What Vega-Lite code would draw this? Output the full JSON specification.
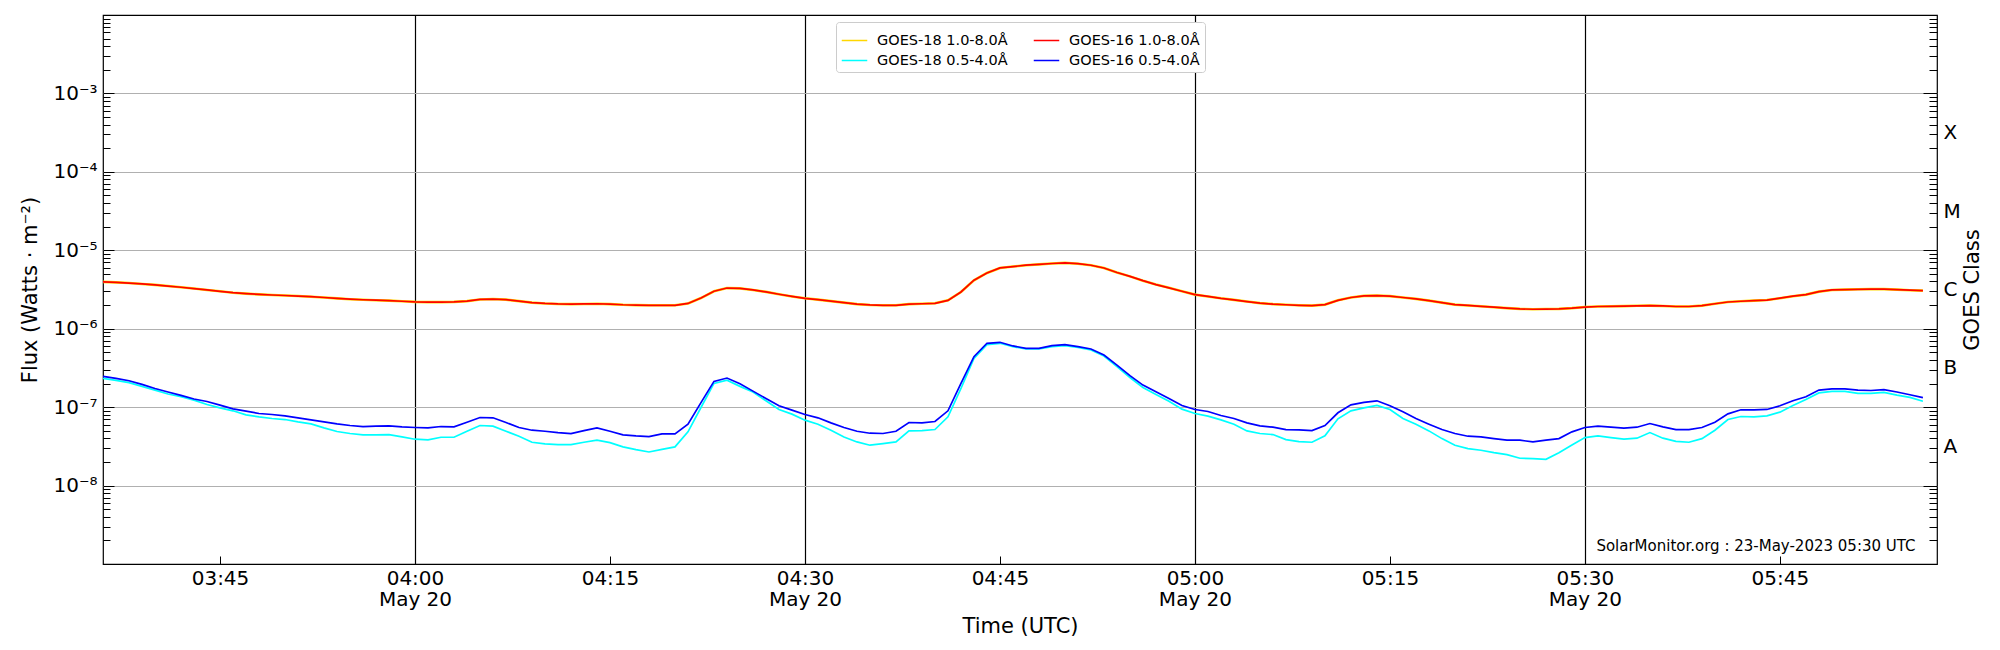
{
  "$schema": "https://vega.github.io/schema/vega-lite/v6.json",
  "autosize": {"type": "none"},
  "padding": {"left": 103, "top": 15, "right": 63, "bottom": 86},
  "width": 1834,
  "height": 549,
  "config": {
    "font": "DejaVu Sans",
    "view": {"stroke": "black", "strokeWidth": 1.2},
    "axis": {"labelColor": "black", "titleColor": "black", "tickColor": "black", "titleFontWeight": "normal"}
  },
  "datasets": {
    "goes": [
      {"t": "2023-05-20T03:36:00Z", "g18l": 3.95e-6, "g16l": 3.95e-6, "g18s": 2.33e-7, "g16s": 2.47e-7},
      {"t": "2023-05-20T03:37:00Z", "g18l": 3.9e-6, "g16l": 3.9e-6, "g18s": 2.19e-7, "g16s": 2.33e-7},
      {"t": "2023-05-20T03:38:00Z", "g18l": 3.82e-6, "g16l": 3.82e-6, "g18s": 2.05e-7, "g16s": 2.17e-7},
      {"t": "2023-05-20T03:39:00Z", "g18l": 3.72e-6, "g16l": 3.72e-6, "g18s": 1.84e-7, "g16s": 1.95e-7},
      {"t": "2023-05-20T03:40:00Z", "g18l": 3.62e-6, "g16l": 3.62e-6, "g18s": 1.65e-7, "g16s": 1.73e-7},
      {"t": "2023-05-20T03:41:00Z", "g18l": 3.5e-6, "g16l": 3.5e-6, "g18s": 1.47e-7, "g16s": 1.56e-7},
      {"t": "2023-05-20T03:42:00Z", "g18l": 3.38e-6, "g16l": 3.38e-6, "g18s": 1.36e-7, "g16s": 1.41e-7},
      {"t": "2023-05-20T03:43:00Z", "g18l": 3.25e-6, "g16l": 3.25e-6, "g18s": 1.23e-7, "g16s": 1.27e-7},
      {"t": "2023-05-20T03:44:00Z", "g18l": 3.12e-6, "g16l": 3.12e-6, "g18s": 1.08e-7, "g16s": 1.18e-7},
      {"t": "2023-05-20T03:45:00Z", "g18l": 3.0e-6, "g16l": 3.0e-6, "g18s": 0.98e-7, "g16s": 1.06e-7},
      {"t": "2023-05-20T03:46:00Z", "g18l": 2.88e-6, "g16l": 2.88e-6, "g18s": 0.898e-7, "g16s": 0.952e-7},
      {"t": "2023-05-20T03:47:00Z", "g18l": 2.8e-6, "g16l": 2.8e-6, "g18s": 0.798e-7, "g16s": 0.889e-7},
      {"t": "2023-05-20T03:48:00Z", "g18l": 2.74e-6, "g16l": 2.74e-6, "g18s": 0.752e-7, "g16s": 0.83e-7},
      {"t": "2023-05-20T03:49:00Z", "g18l": 2.69e-6, "g16l": 2.69e-6, "g18s": 0.716e-7, "g16s": 0.806e-7},
      {"t": "2023-05-20T03:50:00Z", "g18l": 2.65e-6, "g16l": 2.65e-6, "g18s": 0.695e-7, "g16s": 0.775e-7},
      {"t": "2023-05-20T03:51:00Z", "g18l": 2.61e-6, "g16l": 2.61e-6, "g18s": 0.649e-7, "g16s": 0.731e-7},
      {"t": "2023-05-20T03:52:00Z", "g18l": 2.56e-6, "g16l": 2.56e-6, "g18s": 0.612e-7, "g16s": 0.689e-7},
      {"t": "2023-05-20T03:53:00Z", "g18l": 2.5e-6, "g16l": 2.5e-6, "g18s": 0.544e-7, "g16s": 0.649e-7},
      {"t": "2023-05-20T03:54:00Z", "g18l": 2.44e-6, "g16l": 2.44e-6, "g18s": 0.489e-7, "g16s": 0.612e-7},
      {"t": "2023-05-20T03:55:00Z", "g18l": 2.38e-6, "g16l": 2.38e-6, "g18s": 0.461e-7, "g16s": 0.583e-7},
      {"t": "2023-05-20T03:56:00Z", "g18l": 2.34e-6, "g16l": 2.34e-6, "g18s": 0.443e-7, "g16s": 0.566e-7},
      {"t": "2023-05-20T03:57:00Z", "g18l": 2.31e-6, "g16l": 2.31e-6, "g18s": 0.443e-7, "g16s": 0.572e-7},
      {"t": "2023-05-20T03:58:00Z", "g18l": 2.28e-6, "g16l": 2.28e-6, "g18s": 0.447e-7, "g16s": 0.577e-7},
      {"t": "2023-05-20T03:59:00Z", "g18l": 2.24e-6, "g16l": 2.24e-6, "g18s": 0.417e-7, "g16s": 0.56e-7},
      {"t": "2023-05-20T04:00:00Z", "g18l": 2.2e-6, "g16l": 2.2e-6, "g18s": 0.39e-7, "g16s": 0.55e-7},
      {"t": "2023-05-20T04:01:00Z", "g18l": 2.18e-6, "g16l": 2.18e-6, "g18s": 0.382e-7, "g16s": 0.544e-7},
      {"t": "2023-05-20T04:02:00Z", "g18l": 2.18e-6, "g16l": 2.18e-6, "g18s": 0.413e-7, "g16s": 0.566e-7},
      {"t": "2023-05-20T04:03:00Z", "g18l": 2.2e-6, "g16l": 2.2e-6, "g18s": 0.413e-7, "g16s": 0.56e-7},
      {"t": "2023-05-20T04:04:00Z", "g18l": 2.25e-6, "g16l": 2.25e-6, "g18s": 0.493e-7, "g16s": 0.643e-7},
      {"t": "2023-05-20T04:05:00Z", "g18l": 2.36e-6, "g16l": 2.36e-6, "g18s": 0.583e-7, "g16s": 0.738e-7},
      {"t": "2023-05-20T04:06:00Z", "g18l": 2.39e-6, "g16l": 2.39e-6, "g18s": 0.572e-7, "g16s": 0.731e-7},
      {"t": "2023-05-20T04:07:00Z", "g18l": 2.35e-6, "g16l": 2.35e-6, "g18s": 0.493e-7, "g16s": 0.637e-7},
      {"t": "2023-05-20T04:08:00Z", "g18l": 2.25e-6, "g16l": 2.25e-6, "g18s": 0.426e-7, "g16s": 0.55e-7},
      {"t": "2023-05-20T04:09:00Z", "g18l": 2.15e-6, "g16l": 2.15e-6, "g18s": 0.357e-7, "g16s": 0.508e-7},
      {"t": "2023-05-20T04:10:00Z", "g18l": 2.1e-6, "g16l": 2.1e-6, "g18s": 0.34e-7, "g16s": 0.493e-7},
      {"t": "2023-05-20T04:11:00Z", "g18l": 2.07e-6, "g16l": 2.07e-6, "g18s": 0.333e-7, "g16s": 0.474e-7},
      {"t": "2023-05-20T04:12:00Z", "g18l": 2.06e-6, "g16l": 2.06e-6, "g18s": 0.333e-7, "g16s": 0.461e-7},
      {"t": "2023-05-20T04:13:00Z", "g18l": 2.07e-6, "g16l": 2.07e-6, "g18s": 0.357e-7, "g16s": 0.503e-7},
      {"t": "2023-05-20T04:14:00Z", "g18l": 2.08e-6, "g16l": 2.08e-6, "g18s": 0.379e-7, "g16s": 0.544e-7},
      {"t": "2023-05-20T04:15:00Z", "g18l": 2.06e-6, "g16l": 2.06e-6, "g18s": 0.353e-7, "g16s": 0.493e-7},
      {"t": "2023-05-20T04:16:00Z", "g18l": 2.02e-6, "g16l": 2.02e-6, "g18s": 0.311e-7, "g16s": 0.443e-7},
      {"t": "2023-05-20T04:17:00Z", "g18l": 2.0e-6, "g16l": 2.0e-6, "g18s": 0.287e-7, "g16s": 0.43e-7},
      {"t": "2023-05-20T04:18:00Z", "g18l": 1.99e-6, "g16l": 1.99e-6, "g18s": 0.268e-7, "g16s": 0.422e-7},
      {"t": "2023-05-20T04:19:00Z", "g18l": 1.99e-6, "g16l": 1.99e-6, "g18s": 0.29e-7, "g16s": 0.456e-7},
      {"t": "2023-05-20T04:20:00Z", "g18l": 1.99e-6, "g16l": 1.99e-6, "g18s": 0.311e-7, "g16s": 0.456e-7},
      {"t": "2023-05-20T04:21:00Z", "g18l": 2.1e-6, "g16l": 2.1e-6, "g18s": 0.484e-7, "g16s": 0.606e-7},
      {"t": "2023-05-20T04:22:00Z", "g18l": 2.46e-6, "g16l": 2.46e-6, "g18s": 0.99e-7, "g16s": 1.14e-7},
      {"t": "2023-05-20T04:23:00Z", "g18l": 3.0e-6, "g16l": 3.0e-6, "g18s": 2.01e-7, "g16s": 2.13e-7},
      {"t": "2023-05-20T04:24:00Z", "g18l": 3.3e-6, "g16l": 3.3e-6, "g18s": 2.21e-7, "g16s": 2.35e-7},
      {"t": "2023-05-20T04:25:00Z", "g18l": 3.27e-6, "g16l": 3.27e-6, "g18s": 1.84e-7, "g16s": 1.99e-7},
      {"t": "2023-05-20T04:26:00Z", "g18l": 3.12e-6, "g16l": 3.12e-6, "g18s": 1.56e-7, "g16s": 1.6e-7},
      {"t": "2023-05-20T04:27:00Z", "g18l": 2.95e-6, "g16l": 2.95e-6, "g18s": 1.205e-7, "g16s": 1.29e-7},
      {"t": "2023-05-20T04:28:00Z", "g18l": 2.75e-6, "g16l": 2.75e-6, "g18s": 0.934e-7, "g16s": 1.04e-7},
      {"t": "2023-05-20T04:29:00Z", "g18l": 2.58e-6, "g16l": 2.58e-6, "g18s": 0.814e-7, "g16s": 0.915e-7},
      {"t": "2023-05-20T04:30:00Z", "g18l": 2.44e-6, "g16l": 2.44e-6, "g18s": 0.682e-7, "g16s": 0.806e-7},
      {"t": "2023-05-20T04:31:00Z", "g18l": 2.35e-6, "g16l": 2.35e-6, "g18s": 0.606e-7, "g16s": 0.731e-7},
      {"t": "2023-05-20T04:32:00Z", "g18l": 2.25e-6, "g16l": 2.25e-6, "g18s": 0.508e-7, "g16s": 0.63e-7},
      {"t": "2023-05-20T04:33:00Z", "g18l": 2.15e-6, "g16l": 2.15e-6, "g18s": 0.417e-7, "g16s": 0.55e-7},
      {"t": "2023-05-20T04:34:00Z", "g18l": 2.06e-6, "g16l": 2.06e-6, "g18s": 0.36e-7, "g16s": 0.493e-7},
      {"t": "2023-05-20T04:35:00Z", "g18l": 2.01e-6, "g16l": 2.01e-6, "g18s": 0.327e-7, "g16s": 0.465e-7},
      {"t": "2023-05-20T04:36:00Z", "g18l": 1.99e-6, "g16l": 1.99e-6, "g18s": 0.343e-7, "g16s": 0.461e-7},
      {"t": "2023-05-20T04:37:00Z", "g18l": 1.99e-6, "g16l": 1.99e-6, "g18s": 0.36e-7, "g16s": 0.493e-7},
      {"t": "2023-05-20T04:38:00Z", "g18l": 2.06e-6, "g16l": 2.06e-6, "g18s": 0.498e-7, "g16s": 0.637e-7},
      {"t": "2023-05-20T04:39:00Z", "g18l": 2.08e-6, "g16l": 2.08e-6, "g18s": 0.503e-7, "g16s": 0.63e-7},
      {"t": "2023-05-20T04:40:00Z", "g18l": 2.11e-6, "g16l": 2.11e-6, "g18s": 0.518e-7, "g16s": 0.656e-7},
      {"t": "2023-05-20T04:41:00Z", "g18l": 2.3e-6, "g16l": 2.3e-6, "g18s": 0.752e-7, "g16s": 0.898e-7},
      {"t": "2023-05-20T04:42:00Z", "g18l": 2.94e-6, "g16l": 2.94e-6, "g18s": 1.73e-7, "g16s": 2.01e-7},
      {"t": "2023-05-20T04:43:00Z", "g18l": 4.15e-6, "g16l": 4.15e-6, "g18s": 4.19e-7, "g16s": 4.4e-7},
      {"t": "2023-05-20T04:44:00Z", "g18l": 5.14e-6, "g16l": 5.14e-6, "g18s": 6.27e-7, "g16s": 6.52e-7},
      {"t": "2023-05-20T04:45:00Z", "g18l": 5.96e-6, "g16l": 5.96e-6, "g18s": 6.52e-7, "g16s": 6.71e-7},
      {"t": "2023-05-20T04:46:00Z", "g18l": 6.2e-6, "g16l": 6.2e-6, "g18s": 5.91e-7, "g16s": 6.03e-7},
      {"t": "2023-05-20T04:47:00Z", "g18l": 6.45e-6, "g16l": 6.45e-6, "g18s": 5.52e-7, "g16s": 5.63e-7},
      {"t": "2023-05-20T04:48:00Z", "g18l": 6.62e-6, "g16l": 6.62e-6, "g18s": 5.52e-7, "g16s": 5.63e-7},
      {"t": "2023-05-20T04:49:00Z", "g18l": 6.78e-6, "g16l": 6.78e-6, "g18s": 5.91e-7, "g16s": 6.09e-7},
      {"t": "2023-05-20T04:50:00Z", "g18l": 6.9e-6, "g16l": 6.9e-6, "g18s": 6.09e-7, "g16s": 6.27e-7},
      {"t": "2023-05-20T04:51:00Z", "g18l": 6.75e-6, "g16l": 6.75e-6, "g18s": 5.79e-7, "g16s": 5.91e-7},
      {"t": "2023-05-20T04:52:00Z", "g18l": 6.45e-6, "g16l": 6.45e-6, "g18s": 5.36e-7, "g16s": 5.52e-7},
      {"t": "2023-05-20T04:53:00Z", "g18l": 5.95e-6, "g16l": 5.95e-6, "g18s": 4.49e-7, "g16s": 4.62e-7},
      {"t": "2023-05-20T04:54:00Z", "g18l": 5.2e-6, "g16l": 5.2e-6, "g18s": 3.28e-7, "g16s": 3.44e-7},
      {"t": "2023-05-20T04:55:00Z", "g18l": 4.65e-6, "g16l": 4.65e-6, "g18s": 2.39e-7, "g16s": 2.52e-7},
      {"t": "2023-05-20T04:56:00Z", "g18l": 4.1e-6, "g16l": 4.1e-6, "g18s": 1.78e-7, "g16s": 1.91e-7},
      {"t": "2023-05-20T04:57:00Z", "g18l": 3.65e-6, "g16l": 3.65e-6, "g18s": 1.45e-7, "g16s": 1.57e-7},
      {"t": "2023-05-20T04:58:00Z", "g18l": 3.32e-6, "g16l": 3.32e-6, "g18s": 1.19e-7, "g16s": 1.29e-7},
      {"t": "2023-05-20T04:59:00Z", "g18l": 3.0e-6, "g16l": 3.0e-6, "g18s": 0.943e-7, "g16s": 1.05e-7},
      {"t": "2023-05-20T05:00:00Z", "g18l": 2.72e-6, "g16l": 2.72e-6, "g18s": 0.83e-7, "g16s": 0.934e-7},
      {"t": "2023-05-20T05:01:00Z", "g18l": 2.58e-6, "g16l": 2.58e-6, "g18s": 0.767e-7, "g16s": 0.881e-7},
      {"t": "2023-05-20T05:02:00Z", "g18l": 2.44e-6, "g16l": 2.44e-6, "g18s": 0.689e-7, "g16s": 0.782e-7},
      {"t": "2023-05-20T05:03:00Z", "g18l": 2.33e-6, "g16l": 2.33e-6, "g18s": 0.606e-7, "g16s": 0.716e-7},
      {"t": "2023-05-20T05:04:00Z", "g18l": 2.22e-6, "g16l": 2.22e-6, "g18s": 0.498e-7, "g16s": 0.63e-7},
      {"t": "2023-05-20T05:05:00Z", "g18l": 2.12e-6, "g16l": 2.12e-6, "g18s": 0.461e-7, "g16s": 0.577e-7},
      {"t": "2023-05-20T05:06:00Z", "g18l": 2.06e-6, "g16l": 2.06e-6, "g18s": 0.447e-7, "g16s": 0.555e-7},
      {"t": "2023-05-20T05:07:00Z", "g18l": 2.02e-6, "g16l": 2.02e-6, "g18s": 0.386e-7, "g16s": 0.518e-7},
      {"t": "2023-05-20T05:08:00Z", "g18l": 1.99e-6, "g16l": 1.99e-6, "g18s": 0.364e-7, "g16s": 0.513e-7},
      {"t": "2023-05-20T05:09:00Z", "g18l": 1.97e-6, "g16l": 1.97e-6, "g18s": 0.357e-7, "g16s": 0.503e-7},
      {"t": "2023-05-20T05:10:00Z", "g18l": 2.03e-6, "g16l": 2.03e-6, "g18s": 0.43e-7, "g16s": 0.583e-7},
      {"t": "2023-05-20T05:11:00Z", "g18l": 2.3e-6, "g16l": 2.3e-6, "g18s": 0.709e-7, "g16s": 0.847e-7},
      {"t": "2023-05-20T05:12:00Z", "g18l": 2.5e-6, "g16l": 2.5e-6, "g18s": 0.898e-7, "g16s": 1.07e-7},
      {"t": "2023-05-20T05:13:00Z", "g18l": 2.62e-6, "g16l": 2.62e-6, "g18s": 0.98e-7, "g16s": 1.15e-7},
      {"t": "2023-05-20T05:14:00Z", "g18l": 2.64e-6, "g16l": 2.64e-6, "g18s": 1.05e-7, "g16s": 1.205e-7},
      {"t": "2023-05-20T05:15:00Z", "g18l": 2.6e-6, "g16l": 2.6e-6, "g18s": 0.934e-7, "g16s": 1.04e-7},
      {"t": "2023-05-20T05:16:00Z", "g18l": 2.5e-6, "g16l": 2.5e-6, "g18s": 0.716e-7, "g16s": 0.871e-7},
      {"t": "2023-05-20T05:17:00Z", "g18l": 2.4e-6, "g16l": 2.4e-6, "g18s": 0.606e-7, "g16s": 0.716e-7},
      {"t": "2023-05-20T05:18:00Z", "g18l": 2.28e-6, "g16l": 2.28e-6, "g18s": 0.498e-7, "g16s": 0.606e-7},
      {"t": "2023-05-20T05:19:00Z", "g18l": 2.15e-6, "g16l": 2.15e-6, "g18s": 0.397e-7, "g16s": 0.518e-7},
      {"t": "2023-05-20T05:20:00Z", "g18l": 2.03e-6, "g16l": 2.03e-6, "g18s": 0.327e-7, "g16s": 0.461e-7},
      {"t": "2023-05-20T05:21:00Z", "g18l": 1.98e-6, "g16l": 1.98e-6, "g18s": 0.296e-7, "g16s": 0.426e-7},
      {"t": "2023-05-20T05:22:00Z", "g18l": 1.93e-6, "g16l": 1.93e-6, "g18s": 0.282e-7, "g16s": 0.417e-7},
      {"t": "2023-05-20T05:23:00Z", "g18l": 1.88e-6, "g16l": 1.88e-6, "g18s": 0.263e-7, "g16s": 0.397e-7},
      {"t": "2023-05-20T05:24:00Z", "g18l": 1.83e-6, "g16l": 1.83e-6, "g18s": 0.248e-7, "g16s": 0.379e-7},
      {"t": "2023-05-20T05:25:00Z", "g18l": 1.79e-6, "g16l": 1.79e-6, "g18s": 0.223e-7, "g16s": 0.379e-7},
      {"t": "2023-05-20T05:26:00Z", "g18l": 1.77e-6, "g16l": 1.77e-6, "g18s": 0.221e-7, "g16s": 0.36e-7},
      {"t": "2023-05-20T05:27:00Z", "g18l": 1.78e-6, "g16l": 1.78e-6, "g18s": 0.216e-7, "g16s": 0.379e-7},
      {"t": "2023-05-20T05:28:00Z", "g18l": 1.79e-6, "g16l": 1.79e-6, "g18s": 0.263e-7, "g16s": 0.397e-7},
      {"t": "2023-05-20T05:29:00Z", "g18l": 1.83e-6, "g16l": 1.83e-6, "g18s": 0.33e-7, "g16s": 0.484e-7},
      {"t": "2023-05-20T05:30:00Z", "g18l": 1.89e-6, "g16l": 1.89e-6, "g18s": 0.409e-7, "g16s": 0.55e-7},
      {"t": "2023-05-20T05:31:00Z", "g18l": 1.92e-6, "g16l": 1.92e-6, "g18s": 0.43e-7, "g16s": 0.572e-7},
      {"t": "2023-05-20T05:32:00Z", "g18l": 1.93e-6, "g16l": 1.93e-6, "g18s": 0.409e-7, "g16s": 0.555e-7},
      {"t": "2023-05-20T05:33:00Z", "g18l": 1.94e-6, "g16l": 1.94e-6, "g18s": 0.39e-7, "g16s": 0.539e-7},
      {"t": "2023-05-20T05:34:00Z", "g18l": 1.96e-6, "g16l": 1.96e-6, "g18s": 0.402e-7, "g16s": 0.555e-7},
      {"t": "2023-05-20T05:35:00Z", "g18l": 1.97e-6, "g16l": 1.97e-6, "g18s": 0.474e-7, "g16s": 0.618e-7},
      {"t": "2023-05-20T05:36:00Z", "g18l": 1.95e-6, "g16l": 1.95e-6, "g18s": 0.402e-7, "g16s": 0.56e-7},
      {"t": "2023-05-20T05:37:00Z", "g18l": 1.92e-6, "g16l": 1.92e-6, "g18s": 0.367e-7, "g16s": 0.518e-7},
      {"t": "2023-05-20T05:38:00Z", "g18l": 1.92e-6, "g16l": 1.92e-6, "g18s": 0.357e-7, "g16s": 0.518e-7},
      {"t": "2023-05-20T05:39:00Z", "g18l": 1.97e-6, "g16l": 1.97e-6, "g18s": 0.397e-7, "g16s": 0.55e-7},
      {"t": "2023-05-20T05:40:00Z", "g18l": 2.08e-6, "g16l": 2.08e-6, "g18s": 0.508e-7, "g16s": 0.643e-7},
      {"t": "2023-05-20T05:41:00Z", "g18l": 2.19e-6, "g16l": 2.19e-6, "g18s": 0.695e-7, "g16s": 0.822e-7},
      {"t": "2023-05-20T05:42:00Z", "g18l": 2.24e-6, "g16l": 2.24e-6, "g18s": 0.76e-7, "g16s": 0.925e-7},
      {"t": "2023-05-20T05:43:00Z", "g18l": 2.28e-6, "g16l": 2.28e-6, "g18s": 0.752e-7, "g16s": 0.925e-7},
      {"t": "2023-05-20T05:44:00Z", "g18l": 2.32e-6, "g16l": 2.32e-6, "g18s": 0.775e-7, "g16s": 0.934e-7},
      {"t": "2023-05-20T05:45:00Z", "g18l": 2.45e-6, "g16l": 2.45e-6, "g18s": 0.863e-7, "g16s": 1.04e-7},
      {"t": "2023-05-20T05:46:00Z", "g18l": 2.6e-6, "g16l": 2.6e-6, "g18s": 1.05e-7, "g16s": 1.205e-7},
      {"t": "2023-05-20T05:47:00Z", "g18l": 2.72e-6, "g16l": 2.72e-6, "g18s": 1.25e-7, "g16s": 1.355e-7},
      {"t": "2023-05-20T05:48:00Z", "g18l": 2.97e-6, "g16l": 2.97e-6, "g18s": 1.52e-7, "g16s": 1.65e-7},
      {"t": "2023-05-20T05:49:00Z", "g18l": 3.12e-6, "g16l": 3.12e-6, "g18s": 1.59e-7, "g16s": 1.71e-7},
      {"t": "2023-05-20T05:50:00Z", "g18l": 3.15e-6, "g16l": 3.15e-6, "g18s": 1.59e-7, "g16s": 1.71e-7},
      {"t": "2023-05-20T05:51:00Z", "g18l": 3.18e-6, "g16l": 3.18e-6, "g18s": 1.5e-7, "g16s": 1.65e-7},
      {"t": "2023-05-20T05:52:00Z", "g18l": 3.2e-6, "g16l": 3.2e-6, "g18s": 1.5e-7, "g16s": 1.63e-7},
      {"t": "2023-05-20T05:53:00Z", "g18l": 3.2e-6, "g16l": 3.2e-6, "g18s": 1.54e-7, "g16s": 1.67e-7},
      {"t": "2023-05-20T05:54:00Z", "g18l": 3.15e-6, "g16l": 3.15e-6, "g18s": 1.42e-7, "g16s": 1.56e-7},
      {"t": "2023-05-20T05:55:00Z", "g18l": 3.1e-6, "g16l": 3.1e-6, "g18s": 1.33e-7, "g16s": 1.44e-7},
      {"t": "2023-05-20T05:56:00Z", "g18l": 3.06e-6, "g16l": 3.06e-6, "g18s": 1.19e-7, "g16s": 1.32e-7}
    ],
    "note": [
      {"t": "2023-05-20T05:55:26Z", "flux": 1.45e-9, "label": "SolarMonitor.org : 23-May-2023 05:30 UTC"}
    ]
  },
  "layer": [
    {
      "data": {"name": "goes"},
      "transform": [
        {"fold": ["g18l", "g18s", "g16l", "g16s"], "as": ["key", "flux"]}
      ],
      "mark": {"type": "line", "clip": true},
      "encoding": {
        "x": {
          "field": "t",
          "type": "temporal",
          "scale": {
            "type": "utc",
            "nice": false,
            "domain": [
              {"year": 2023, "month": 5, "date": 20, "hours": 3, "minutes": 36, "utc": true},
              {"year": 2023, "month": 5, "date": 20, "hours": 5, "minutes": 57, "seconds": 5, "utc": true}
            ]
          },
          "axis": {
            "title": "Time (UTC)",
            "titleFontSize": 21,
            "titlePadding": 6,
            "labelFontSize": 20,
            "labelLineHeight": 21,
            "values": [
              {"year": 2023, "month": 5, "date": 20, "hours": 3, "minutes": 45, "utc": true},
              {"year": 2023, "month": 5, "date": 20, "hours": 4, "minutes": 0, "utc": true},
              {"year": 2023, "month": 5, "date": 20, "hours": 4, "minutes": 15, "utc": true},
              {"year": 2023, "month": 5, "date": 20, "hours": 4, "minutes": 30, "utc": true},
              {"year": 2023, "month": 5, "date": 20, "hours": 4, "minutes": 45, "utc": true},
              {"year": 2023, "month": 5, "date": 20, "hours": 5, "minutes": 0, "utc": true},
              {"year": 2023, "month": 5, "date": 20, "hours": 5, "minutes": 15, "utc": true},
              {"year": 2023, "month": 5, "date": 20, "hours": 5, "minutes": 30, "utc": true},
              {"year": 2023, "month": 5, "date": 20, "hours": 5, "minutes": 45, "utc": true}
            ],
            "labelExpr": "utcminutes(datum.value) % 30 === 0 ? [utcFormat(datum.value, '%H:%M'), 'May 20'] : utcFormat(datum.value, '%H:%M')",
            "labelFlush": false,
            "labelOverlap": false,
            "domain": false,
            "tickSize": -8,
            "labelPadding": 12,
            "grid": true,
            "gridColor": "black",
            "gridWidth": 1.2,
            "gridOpacity": {"condition": {"test": "utcminutes(datum.value) % 30 === 0", "value": 1}, "value": 0}
          }
        },
        "y": {
          "field": "flux",
          "type": "quantitative",
          "scale": {"type": "log", "domain": [1e-9, 1e-2], "nice": false},
          "axis": {
            "title": "Flux (Watts · m⁻²)",
            "titleFontSize": 21,
            "titlePadding": 12,
            "labelFontSize": 20,
            "labelOverlap": false,
            "domain": false,
            "values": [2e-9, 3e-9, 4e-9, 5e-9, 6e-9, 7e-9, 8e-9, 9e-9,
                       1e-8, 2e-8, 3e-8, 4e-8, 5e-8, 6e-8, 7e-8, 8e-8, 9e-8,
                       1e-7, 2e-7, 3e-7, 4e-7, 5e-7, 6e-7, 7e-7, 8e-7, 9e-7,
                       1e-6, 2e-6, 3e-6, 4e-6, 5e-6, 6e-6, 7e-6, 8e-6, 9e-6,
                       1e-5, 2e-5, 3e-5, 4e-5, 5e-5, 6e-5, 7e-5, 8e-5, 9e-5,
                       1e-4, 2e-4, 3e-4, 4e-4, 5e-4, 6e-4, 7e-4, 8e-4, 9e-4,
                       1e-3, 2e-3, 3e-3, 4e-3, 5e-3, 6e-3, 7e-3, 8e-3, 9e-3],
            "labelExpr": "abs(log(datum.value)/LN10 - round(log(datum.value)/LN10)) < 0.001 && round(log(datum.value)/LN10) <= -3 && round(log(datum.value)/LN10) >= -8 ? '10⁻' + ['⁰','¹','²','³','⁴','⁵','⁶','⁷','⁸','⁹'][-round(log(datum.value)/LN10)] : ''",
            "tickSize": {"condition": {"test": "abs(log(datum.value)/LN10 - round(log(datum.value)/LN10)) < 0.001", "value": -11}, "value": -7},
            "labelPadding": 17,
            "grid": true,
            "gridColor": "#b0b0b0",
            "gridOpacity": {"condition": {"test": "abs(log(datum.value)/LN10 - round(log(datum.value)/LN10)) < 0.001", "value": 1}, "value": 0}
          }
        },
        "color": {
          "field": "key",
          "type": "nominal",
          "scale": {
            "domain": ["g18l", "g18s", "g16l", "g16s"],
            "range": ["#ffd700", "#00ffff", "#ff0000", "#0000ff"]
          },
          "legend": {
            "title": null,
            "orient": "none",
            "legendX": 733,
            "legendY": 7,
            "columns": 2,
            "symbolType": "stroke",
            "symbolSize": 650,
            "symbolStrokeWidth": 1.5,
            "labelFont": "DejaVu Sans",
            "labelFontSize": 14.5,
            "labelColor": "black",
            "labelOffset": 9,
            "rowPadding": -2,
            "columnPadding": 22,
            "padding": 5,
            "strokeColor": "#cccccc",
            "fillColor": "white",
            "cornerRadius": 3,
            "labelExpr": "datum.label === 'g18l' ? 'GOES-18 1.0-8.0Å' : datum.label === 'g16l' ? 'GOES-16 1.0-8.0Å' : datum.label === 'g18s' ? 'GOES-18 0.5-4.0Å' : 'GOES-16 0.5-4.0Å'"
          }
        },
        "strokeWidth": {"condition": {"test": "datum.key === 'g18l'", "value": 2.6}, "value": 1.7}
      }
    },
    {
      "data": {"name": "note"},
      "mark": {"type": "text", "align": "right", "baseline": "alphabetic", "fontSize": 15, "font": "DejaVu Sans", "color": "black"},
      "encoding": {
        "x": {"field": "t", "type": "temporal", "axis": null},
        "y": {
          "field": "flux",
          "type": "quantitative",
          "axis": {
            "orient": "right",
            "title": "GOES Class",
            "titleFontSize": 21,
            "titleAngle": 270,
            "titlePadding": 22,
            "labelFontSize": 20,
            "labelOverlap": false,
            "domain": false,
            "grid": false,
            "values": [2e-9, 3e-9, 4e-9, 5e-9, 6e-9, 7e-9, 8e-9, 9e-9,
                       1e-8, 2e-8, 3e-8, 3.1623e-8, 4e-8, 5e-8, 6e-8, 7e-8, 8e-8, 9e-8,
                       1e-7, 2e-7, 3e-7, 3.1623e-7, 4e-7, 5e-7, 6e-7, 7e-7, 8e-7, 9e-7,
                       1e-6, 2e-6, 3e-6, 3.1623e-6, 4e-6, 5e-6, 6e-6, 7e-6, 8e-6, 9e-6,
                       1e-5, 2e-5, 3e-5, 3.1623e-5, 4e-5, 5e-5, 6e-5, 7e-5, 8e-5, 9e-5,
                       1e-4, 2e-4, 3e-4, 3.1623e-4, 4e-4, 5e-4, 6e-4, 7e-4, 8e-4, 9e-4,
                       1e-3, 2e-3, 3e-3, 4e-3, 5e-3, 6e-3, 7e-3, 8e-3, 9e-3],
            "labelExpr": "abs(log(datum.value)/LN10 - floor(log(datum.value)/LN10) - 0.5) < 0.01 ? ['','','','','X','M','C','B','A','',''][-floor(log(datum.value)/LN10)] : ''",
            "tickOpacity": {"condition": {"test": "abs(log(datum.value)/LN10 - floor(log(datum.value)/LN10) - 0.5) < 0.01", "value": 0}, "value": 1},
            "tickSize": {"condition": {"test": "abs(log(datum.value)/LN10 - round(log(datum.value)/LN10)) < 0.001", "value": -14}, "value": -8},
            "labelPadding": 14
          }
        },
        "text": {"field": "label"}
      }
    }
  ],
  "resolve": {"axis": {"x": "independent", "y": "independent"}}
}
